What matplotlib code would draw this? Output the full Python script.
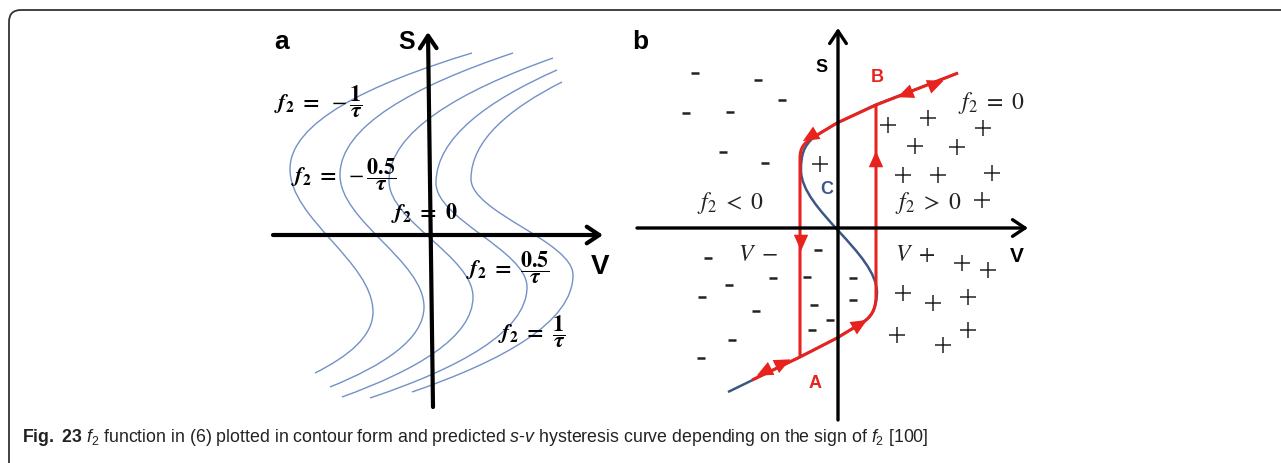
import numpy as np
import matplotlib.pyplot as plt
from matplotlib.path import Path
from matplotlib.patches import PathPatch

plt.rcParams['font.family'] = ['Liberation Sans', 'DejaVu Sans']
plt.rcParams['mathtext.fontset'] = 'custom'
plt.rcParams['mathtext.rm'] = 'Liberation Sans'
plt.rcParams['mathtext.it'] = 'Liberation Sans:italic'
plt.rcParams['mathtext.bf'] = 'Liberation Sans:bold'

# ---------------- panel a : contours of f2 (V, S) ----------------
level_text = [r'-\dfrac{\mathbf{1}}{\mathbfit{\tau}}', r'-\dfrac{\mathbf{0.5}}{\mathbfit{\tau}}',
              r'\mathbf{0}', r'\dfrac{\mathbf{0.5}}{\mathbfit{\tau}}', r'\dfrac{\mathbf{1}}{\mathbfit{\tau}}']
label_v = [-112, -86, -6, 78, 102]
label_s = [133, 60, 22, -33, -97]
# key points of every contour: upper end, left bulge, right bulge, lower end
top_v = [42, 83, 123, 127, 132]
top_s = [182, 182, 177, 165, 153]
lb_v = [-140, -90, -41, 6, 41]
lb_s = [66, 60, 54, 52, 56]
rb_v = [-57, -6, 43, 97, 143]
rb_s = [-77, -72, -62, -52, -40]
bot_v = [-115, -100, -88, -60, -18]
bot_s = [-138, -152, -162, -163, -157]

# ---------------- panel b : hysteresis (V, S) ----------------
blue_v = [-110, -40, -1, 22, 33, 38, 39, 39, -37, -37, -37, -34, -24, -1, 37, 120]
blue_s = [-164, -130, -110, -96, -90, -82, -65, -25, 18, 58, 74, 82, 91, 105, 123, 155]
red_v = [-38, -1, 22, 33, 38, 38, 38, -1, -26, -34, -38, -38, -38]
red_s = [-129, -110, -96, -90, -82, -68, 123, 105, 90, 85, 80, 70, -129]
tail_up_v, tail_up_s = [38, 120], [123, 155]
tail_lo_v, tail_lo_s = [-38, -86], [-129, -152]
arr_v = [100, 65, -30, -37, 38, 24, -53, -76]
arr_s = [145, 133, 90, -17, 71, -95, -134, -145]
arr_dv = [1, -1, -1, 0, 0, 1, 1, -1]
arr_ds = [0.4, -0.4, -0.6, -1, 1, 0.6, 0.5, -0.5]
minus_v = [-143, -80, -56, -152, -108, -115, -73, -130, -20, -109, -65, -31, 15, -136, -82, -24, 15, -8, -26, -106, -137]
minus_s = [155, 148, 128, 115, 116, 76, 65, -30, -22, -57, -50, -49, -50, -69, -83, -77, -72, -92, -102, -112, -130]
plus_v = [50, 90, 145, 77, 119, -18, 65, 100, 154, 144, 124, 150, 65, 95, 130, 59, 105, 130]
plus_s = [103, 110, 100, 82, 81, 64, 53, 53, 55, 28, -35, -42, -65, -75, -69, -107, -117, -102]

caption = (r'$\mathbf{Fig.}$ $\mathbf{23}$ $\mathit{f}_{\mathrm{2}}$ function in (6) plotted in contour form and '
           r'predicted $\mathit{s}$-$\mathit{v}$ hysteresis curve depending on the sign of '
           r'$\mathit{f}_{\mathrm{2}}$ [100]')

RED = '#e8231e'
DBLUE = '#3b5884'
LBLUE = '#7391c6'
W, H = 1281, 463

fig = plt.figure(figsize=(W / 100, H / 100), dpi=100)
bg = fig.add_axes([0, 0, 1, 1])
bg.set_xlim(0, W)
bg.set_ylim(H, 0)
bg.axis('off')

# frame with rounded corner
frame = Path([(9, H), (9, 22), (9, 10), (21, 10), (W, 10)],
             [Path.MOVETO, Path.LINETO, Path.CURVE3, Path.CURVE3, Path.LINETO])
bg.add_patch(PathPatch(frame, fc='none', ec='#333333', lw=1.3))
bg.text(22, 438, caption, fontsize=12.8, va='center', ha='left', color='#222222')
bg.text(282, 42, 'a', fontsize=19, fontweight='bold', ha='center', va='center')
bg.text(640, 42, 'b', fontsize=19, fontweight='bold', ha='center', va='center')


def panel(left, top, right, bottom, ox, oy):
    ax = fig.add_axes([left / W, 1 - bottom / H, (right - left) / W, (bottom - top) / H])
    ax.set_xlim(left - ox, right - ox)
    ax.set_ylim(oy - bottom, oy - top)
    ax.axis('off')
    return ax


def axis_arrow(ax, start, tip, lw):
    ax.annotate('', xy=tip, xytext=start,
                arrowprops=dict(arrowstyle='->,head_length=0.9,head_width=0.6', lw=lw,
                                color='black', mutation_scale=10, shrinkA=0, shrinkB=0))


# ---------------- panel a ----------------
axa = panel(265, 20, 615, 420, 430, 235)
for i in range(5):
    t = (top_v[i], top_s[i])
    lb = (lb_v[i], lb_s[i])
    rb = (rb_v[i], rb_s[i])
    b = (bot_v[i], bot_s[i])
    d1 = t[1] - lb[1]
    dm = lb[1] - rb[1]
    d3 = rb[1] - b[1]
    verts = [t,
             (t[0] + 0.57 * (lb[0] - t[0]), t[1] - 0.27 * d1), (lb[0], lb[1] + 0.4 * d1), lb,
             (lb[0], lb[1] - 0.35 * dm), (rb[0], rb[1] + 0.35 * dm), rb,
             (rb[0], rb[1] - 0.4 * d3), (b[0] + 0.57 * (rb[0] - b[0]), b[1] + 0.27 * d3), b]
    codes = [Path.MOVETO] + [Path.CURVE4] * 9
    axa.add_patch(PathPatch(Path(verts, codes), fc='none', ec=LBLUE, lw=1.0))

axis_arrow(axa, (-157, 0), (173, 0), 3.0)
axis_arrow(axa, (3, -172), (-2, 203), 3.0)
axa.text(-23, 193, 'S', fontsize=18, fontweight='bold', ha='center', va='center')
axa.text(170, -32, 'V', fontsize=20, fontweight='bold', ha='center', va='center')
for i in range(5):
    axa.text(label_v[i], label_s[i],
             r'$\mathbfit{f}_{\mathbf{2}}\ \mathbf{=}\ ' + level_text[i] + '$',
             math_fontfamily='stix', fontsize=16, ha='center', va='center')

# ---------------- panel b ----------------
axb = panel(620, 15, 1050, 430, 838, 228)
L, C4 = Path.LINETO, Path.CURVE4
blue_codes = [Path.MOVETO, L, L, L, C4, C4, C4, C4, C4, C4, C4, C4, C4, L, L, L]
axb.add_patch(PathPatch(Path(list(zip(blue_v, blue_s)), blue_codes), fc='none', ec=DBLUE, lw=1.8))
red_codes = [Path.MOVETO, L, L, C4, C4, C4, L, L, L, C4, C4, C4, L]
axb.add_patch(PathPatch(Path(list(zip(red_v, red_s)), red_codes), fc='none', ec=RED, lw=2.2,
                        joinstyle='round'))
axb.plot(tail_up_v, tail_up_s, color=RED, lw=2.2, solid_capstyle='butt')
axb.plot(tail_lo_v, tail_lo_s, color=RED, lw=2.2, solid_capstyle='butt')

for x, y, dx, dy in zip(arr_v, arr_s, arr_dv, arr_ds):
    n = np.hypot(dx, dy)
    ux, uy = dx / n, dy / n
    tip = (x + 6 * ux, y + 6 * uy)
    tail = (tip[0] - 18 * ux, tip[1] - 18 * uy)
    axb.annotate('', xy=tip, xytext=tail,
                 arrowprops=dict(arrowstyle='-|>,head_length=0.9,head_width=0.4', fc=RED,
                                 ec='none', lw=0, mutation_scale=13, shrinkA=0, shrinkB=0))

axb.plot(minus_v, minus_s, ls='none', marker='_', ms=5.5, mew=1.8, color='#222222')
axb.plot(plus_v, plus_s, ls='none', marker='+', ms=11, mew=1.1, color='#222222')

axis_arrow(axb, (-201, 0), (190, 0), 2.4)
axis_arrow(axb, (0, -192), (0, 200), 2.4)
axb.text(-16, 160, 'S', fontsize=13, fontweight='bold', ha='center', va='center')
axb.text(179, -29, 'V', fontsize=15, fontweight='bold', ha='center', va='center')
axb.text(39, 151, 'B', fontsize=13, fontweight='bold', color=RED, ha='center', va='center')
axb.text(-23, -155, 'A', fontsize=13, fontweight='bold', color=RED, ha='center', va='center')
axb.text(-11, 38, 'C', fontsize=13, fontweight='bold', color=DBLUE, ha='center', va='center')
for txt, x, y in [(r'$f_2\ =\ 0$', 154, 125), (r'$f_2\ <\ 0$', -107, 25), (r'$f_2\ >\ 0$', 91, 25),
                  (r'$V\ -$', -80, -27), (r'$V\ +$', 77, -27)]:
    axb.text(x, y, txt, math_fontfamily='stix', fontsize=17, ha='center', va='center',
             color='#222222')

fig.savefig('out.png', dpi=100)
